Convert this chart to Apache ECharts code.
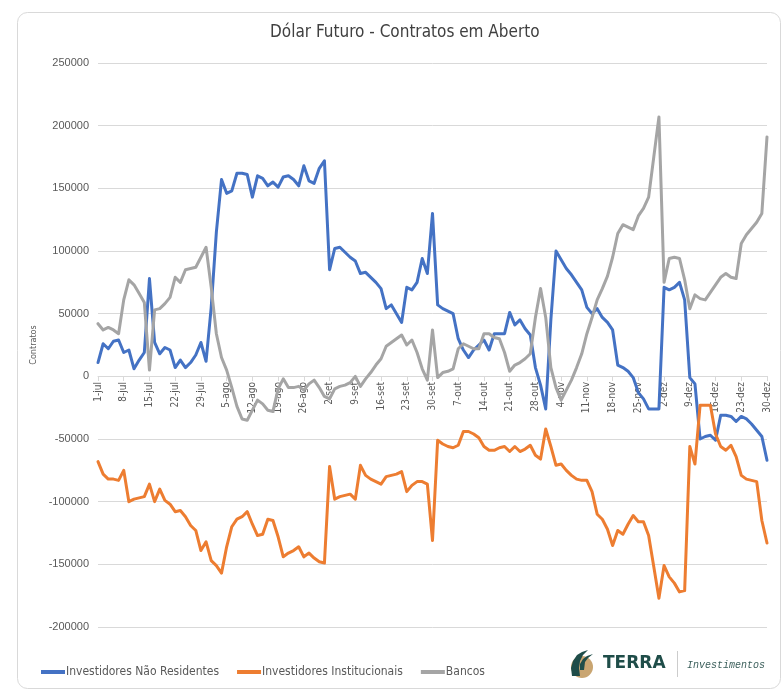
<!DOCTYPE html>
<html>
<head>
<meta charset="utf-8">
<script src="https://cdn.jsdelivr.net/npm/echarts@6/dist/echarts.min.js"></script>
<style>
html,body{margin:0;padding:0;background:#fff;}
#c{width:782px;height:691px;}
</style>
</head>
<body>
<div id="c"></div>
<script>
// Month abbreviations (pt-BR) used for the daily category labels
const monthNames = ['jan','fev','mar','abr','mai','jun','jul','ago','set','out','nov','dez'];
// First and last trading day shown on the axis
const startDate = '2019-07-01';
const endDate = '2019-12-30';

// Y axis scale
const yMin = -200000;
const yMax = 250000;
const yStep = 50000;

const naoResidentes = [
  11000,26000,22000,28000,29000,19000,21000,6000,13000,19000,
  78000,27000,18000,23000,21000,7000,13000,7000,11000,17000,
  27000,12000,55000,115000,157000,146000,148000,162000,162000,161000,
  143000,160000,158000,152000,155000,151000,159000,160000,157000,152000,
  168000,156000,154000,166000,172000,85000,102000,103000,99000,95000,
  92000,82000,83000,79000,75000,70000,54000,57000,50000,43000,
  71000,69000,75000,94000,82000,130000,57000,54000,52000,50000,
  30000,21000,15000,21000,25000,29000,21000,34000,34000,34000,
  51000,41000,45000,38000,33000,7000,-7000,-26000,45000,100000,
  93000,86000,81000,75000,69000,55000,50000,54000,47000,43000,
  37000,9000,7000,4000,-1000,-13000,-18000,-26000,-26000,-26000,
  71000,69000,71000,75000,61000,-1000,-6000,-50000,-48000,-47000,
  -51000,-31000,-31000,-32000,-36000,-32000,-34000,-38000,-43000,-48000,
  -67000
];

const institucionais = [
  -68000,-78000,-82000,-82000,-83000,-75000,-100000,-98000,-97000,-96000,
  -86000,-100000,-90000,-99000,-102000,-108000,-107000,-112000,-119000,-123000,
  -139000,-132000,-147000,-151000,-157000,-136000,-120000,-114000,-112000,-108000,
  -118000,-127000,-126000,-114000,-115000,-128000,-144000,-141000,-139000,-136000,
  -144000,-141000,-145000,-148000,-149000,-72000,-98000,-96000,-95000,-94000,
  -98000,-71000,-79000,-82000,-84000,-86000,-80000,-79000,-78000,-76000,
  -92000,-87000,-84000,-84000,-86000,-131000,-51000,-54000,-56000,-57000,
  -55000,-44000,-44000,-46000,-49000,-56000,-59000,-59000,-57000,-56000,
  -60000,-56000,-60000,-58000,-55000,-63000,-66000,-42000,-56000,-71000,
  -70000,-75000,-79000,-82000,-83000,-83000,-92000,-110000,-114000,-122000,
  -135000,-123000,-126000,-118000,-111000,-116000,-116000,-127000,-152000,-177000,
  -151000,-160000,-165000,-172000,-171000,-56000,-70000,-23000,-23000,-23000,
  -46000,-56000,-59000,-55000,-64000,-79000,-82000,-83000,-84000,-115000,
  -133000
];

const bancos = [
  42000,37000,39000,37000,34000,61000,77000,73000,66000,59000,
  5000,53000,54000,58000,63000,79000,75000,85000,86000,87000,
  95000,103000,71000,34000,15000,5000,-9000,-24000,-34000,-35000,
  -27000,-19000,-22000,-27000,-28000,-10000,-2000,-9000,-9000,-8000,
  -11000,-6000,-3000,-9000,-16000,-18000,-10000,-8000,-7000,-5000,
  0,-8000,-2000,3000,9000,14000,24000,27000,30000,33000,
  25000,29000,19000,6000,-3000,37000,-1000,3000,4000,6000,
  22000,26000,24000,22000,22000,34000,34000,31000,30000,19000,
  4000,9000,11000,14000,18000,47000,70000,47000,7000,-9000,
  -19000,-11000,-3000,7000,18000,34000,47000,61000,70000,80000,
  95000,114000,121000,119000,117000,128000,134000,143000,175000,207000,
  75000,94000,95000,94000,77000,54000,65000,62000,61000,67000,
  73000,79000,82000,79000,78000,106000,113000,118000,123000,130000,
  191000
];

const seriesNames = ['Investidores Não Residentes', 'Investidores Institucionais', 'Bancos'];
const seriesColors = ['#4472c4', '#ed7d31', '#a5a5a5'];

// Build business-day category labels ("1-jul", "2-jul", ...)
const categories = [];
(function () {
  const d = new Date(startDate + 'T12:00:00Z');
  const end = new Date(endDate + 'T12:00:00Z');
  while (d <= end) {
    const wd = d.getUTCDay();
    if (wd !== 0 && wd !== 6) {
      categories.push(d.getUTCDate() + '-' + monthNames[d.getUTCMonth()]);
    }
    d.setUTCDate(d.getUTCDate() + 1);
  }
})();

const chart = echarts.init(document.getElementById('c'), null, { renderer: 'canvas' });
const FONT = '"DejaVu Sans Condensed", "DejaVu Sans", sans-serif';
const dataSets = [naoResidentes, institucionais, bancos];

const GRID_TOP = 63, GRID_BOTTOM = 64, CHART_H = 691;
const plotH = CHART_H - GRID_TOP - GRID_BOTTOM;
// move the category axis up so it sits on the zero line
const zeroOffset = -Math.round(plotH * (0 - yMin) / (yMax - yMin));

chart.setOption({
  backgroundColor: '#ffffff',
  animation: false,
  title: {
    text: 'Dólar Futuro - Contratos em Aberto',
    left: 265,
    top: 19,
    textStyle: { fontFamily: FONT, fontSize: 17, fontWeight: 'normal', color: '#404040' }
  },
  legend: {
    data: seriesNames,
    left: 36,
    top: 661,
    itemWidth: 24,
    itemHeight: 4,
    itemGap: 18,
    icon: 'rect',
    textStyle: { fontFamily: FONT, fontSize: 12, color: '#595959', padding: [0, 0, 0, -4] }
  },
  grid: { left: 98, right: 15, top: GRID_TOP, bottom: GRID_BOTTOM, containLabel: false },
  xAxis: {
    type: 'category',
    data: categories,
    boundaryGap: false,
    position: 'bottom',
    offset: zeroOffset,
    axisLine: { onZero: false, lineStyle: { color: '#d9d9d9', width: 1 } },
    axisTick: { show: true, interval: 4, length: 5, lineStyle: { color: '#d9d9d9' } },
    axisLabel: {
      interval: 4, rotate: 90, margin: 6,
      fontFamily: FONT, fontSize: 10, color: '#595959'
    },
    splitLine: { show: false }
  },
  yAxis: {
    type: 'value',
    min: yMin,
    max: yMax,
    interval: yStep,
    name: 'Contratos',
    nameLocation: 'middle',
    nameGap: 46,
    nameRotate: 90,
    nameTextStyle: { fontFamily: FONT, fontSize: 9, color: '#595959' },
    axisLine: { show: false },
    axisTick: { show: false },
    axisLabel: {
      margin: 9, fontFamily: '"Liberation Sans", Arial, sans-serif', fontSize: 11, color: '#595959',
      formatter: v => String(v)
    },
    splitLine: { lineStyle: { color: '#d9d9d9', width: 1 } }
  },
  series: seriesNames.map((n, k) => ({
    name: n,
    type: 'line',
    data: dataSets[k],
    symbol: 'none',
    smooth: false,
    color: seriesColors[k],
    lineStyle: { width: 3, color: seriesColors[k], join: 'round', cap: 'round' },
    z: 2 + k
  })),
  graphic: [
    {
      type: 'rect', z: -10, silent: true,
      shape: { x: 17.5, y: 12.5, width: 763, height: 676, r: 10 },
      style: { fill: '#ffffff', stroke: '#d9d9d9', lineWidth: 1 }
    },
    // TERRA logo (icon)
    {
      type: 'circle', z: 10,
      shape: { cx: 582, cy: 667, r: 11 },
      style: { fill: '#c9a571' }
    },
    {
      type: 'polygon', z: 11,
      shape: { points: [[572,676],[571,668],[573,661],[577,655],[582,652],[588,650],[583,655],[580,661],[579,668],[580,676]] },
      style: { fill: '#1f4d49' }
    },
    {
      type: 'polygon', z: 11,
      shape: { points: [[580,670],[580,664],[583,659],[587,656],[593,654],[588,658],[585,662],[584,670]] },
      style: { fill: '#1f4d49' }
    },
    {
      type: 'text', z: 10,
      style: {
        text: 'TERRA', x: 603, y: 664, textVerticalAlign: 'middle',
        font: 'bold 17px "DejaVu Sans", sans-serif', fill: '#1f4d49'
      }
    },
    {
      type: 'line', z: 10,
      shape: { x1: 677.5, y1: 651, x2: 677.5, y2: 677 },
      style: { stroke: '#cccccc', lineWidth: 1 }
    },
    {
      type: 'text', z: 10,
      style: {
        text: 'Investimentos', x: 687, y: 665, textVerticalAlign: 'middle',
        font: 'italic 10px "Liberation Mono", monospace', fill: '#3b5f5b'
      }
    }
  ]
});
</script>
</body>
</html>
